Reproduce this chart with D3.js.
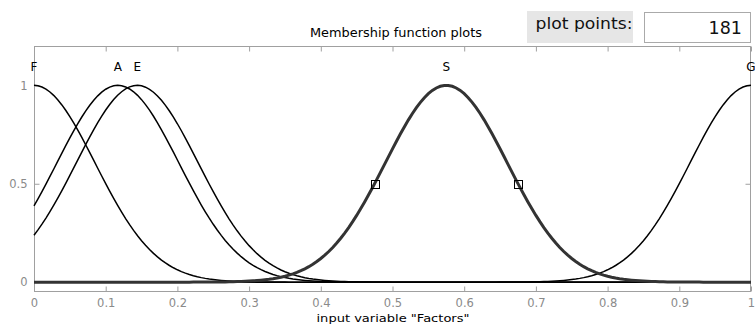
<!DOCTYPE html>
<html>
<head>
<meta charset="utf-8">
<script src="https://cdn.jsdelivr.net/npm/d3@7"></script>
<style>
  body { margin: 0; background: #fff; }
  svg { display: block; font-family: "DejaVu Sans", sans-serif; }
</style>
</head>
<body>
<svg id="chart" width="755" height="327"></svg>
<script>
// membership functions of input "Factors" (gaussmf: sigma, center)
var mfNames   = ["F", "A", "E", "S", "G"];
var mfCenters = [0, 0.117, 0.144, 0.575, 1];
var mfSigmas  = [0.085, 0.085, 0.085, 0.085, 0.085];
var selectedMf = "S";

var xTicks = [0, 0.1, 0.2, 0.3, 0.4, 0.5, 0.6, 0.7, 0.8, 0.9, 1];
var xTickLabels = ["0", "0.1", "0.2", "0.3", "0.4", "0.5", "0.6", "0.7", "0.8", "0.9", "1"];
var yTicks = [0, 0.5, 1];
var yTickLabels = ["0", "0.5", "1"];

var plotPoints = 181;
var inputRange = [0, 1];

var svg = d3.select("#chart");
// axes box (note: "top" is taken by window.top, so prefix these)
var axL = 34, axR = 751, axT = 46, axB = 292;

var x = d3.scaleLinear().domain(inputRange).range([axL, axR]);
var y = d3.scaleLinear().domain([-0.05, 1.2]).range([axB, axT]);

function gaussmf(v, sig, c) {
  return Math.exp(-((v - c) * (v - c)) / (2 * sig * sig));
}

// title
svg.append("text")
  .attr("x", 396).attr("y", 37)
  .attr("text-anchor", "middle")
  .attr("fill", "#000")
  .attr("textLength", 172).attr("lengthAdjust", "spacingAndGlyphs")
  .style("font-size", "11.5px")
  .text("Membership function plots");

// "plot points" label + edit box
svg.append("rect").attr("x", 527).attr("y", 11).attr("width", 106).attr("height", 32)
  .attr("fill", "#e6e6e6");
svg.append("text").attr("x", 584).attr("y", 29)
  .attr("text-anchor", "middle")
  .attr("fill", "#111")
  .attr("textLength", 97).attr("lengthAdjust", "spacingAndGlyphs")
  .style("font-size", "16px")
  .text("plot points:");
svg.append("rect").attr("x", 644.5).attr("y", 12.5).attr("width", 106).attr("height", 30)
  .attr("fill", "#fff").attr("stroke", "#aaa");
svg.append("text").attr("x", 742).attr("y", 34)
  .attr("text-anchor", "end")
  .attr("fill", "#111")
  .style("font-size", "17.5px")
  .text(plotPoints);

svg.append("rect")
  .attr("x", axL + 0.5).attr("y", axT + 0.5)
  .attr("width", axR - axL - 1).attr("height", axB - axT - 1)
  .attr("fill", "none").attr("stroke", "#a0a0a0");

var tickLen = 5;
var xAxisB = d3.axisBottom(x).tickValues(xTicks).tickSize(-tickLen)
  .tickFormat(function (d, i) { return xTickLabels[i]; }).tickPadding(7);
var gxb = svg.append("g").attr("transform", "translate(0," + (axB - 0.5) + ")").call(xAxisB);
var xAxisT = d3.axisTop(x).tickValues(xTicks).tickSize(-tickLen).tickFormat("");
var gxt = svg.append("g").attr("transform", "translate(0," + (axT + 0.5) + ")").call(xAxisT);
var yAxisL = d3.axisLeft(y).tickValues(yTicks).tickSize(-tickLen)
  .tickFormat(function (d, i) { return yTickLabels[i]; }).tickPadding(7);
var gyl = svg.append("g").attr("transform", "translate(" + (axL + 0.5) + ",0)").call(yAxisL);
var yAxisR = d3.axisRight(y).tickValues(yTicks).tickSize(-tickLen).tickFormat("");
var gyr = svg.append("g").attr("transform", "translate(" + (axR - 0.5) + ",0)").call(yAxisR);

[gxb, gxt, gyl, gyr].forEach(function (g) {
  g.select(".domain").remove();
  g.selectAll("line").attr("stroke", "#a0a0a0");
  g.selectAll("text").attr("fill", "#8a8a8a").style("font-size", "11.5px")
    .style("font-family", "'DejaVu Sans', sans-serif");
});

// x label
svg.append("text")
  .attr("x", 393).attr("y", 322)
  .attr("text-anchor", "middle")
  .attr("fill", "#000")
  .attr("textLength", 153).attr("lengthAdjust", "spacingAndGlyphs")
  .style("font-size", "11px")
  .text('input variable "Factors"');

// curves
var xs = d3.range(plotPoints).map(function (i) {
  return inputRange[0] + (inputRange[1] - inputRange[0]) * i / (plotPoints - 1);
});
var line = d3.line().x(function (d) { return x(d[0]); }).y(function (d) { return y(d[1]); });

var order = mfNames.map(function (n, i) { return i; })
  .sort(function (a, b) { return (mfNames[a] === selectedMf) - (mfNames[b] === selectedMf); });

order.forEach(function (i) {
  var pts = xs.map(function (v) { return [v, gaussmf(v, mfSigmas[i], mfCenters[i])]; });
  var sel = mfNames[i] === selectedMf;
  svg.append("path")
    .attr("d", line(pts))
    .attr("fill", "none")
    .attr("stroke", sel ? "#333" : "#000")
    .attr("stroke-width", sel ? 3 : 1.5);
});

// MF name labels
mfNames.forEach(function (n, i) {
  svg.append("text")
    .attr("x", x(mfCenters[i])).attr("y", y(1.1) + 5)
    .attr("text-anchor", "middle")
    .attr("fill", "#000")
    .style("font-size", "12px")
    .text(n);
});

// handles on the selected MF (half-height points)
var si = mfNames.indexOf(selectedMf);
var halfW = mfSigmas[si] * Math.sqrt(2 * Math.log(2));
[mfCenters[si] - halfW, mfCenters[si] + halfW].forEach(function (v) {
  svg.append("rect")
    .attr("x", Math.round(x(v)) - 4 + 0.5).attr("y", Math.round(y(0.5)) - 4 + 0.5)
    .attr("width", 8).attr("height", 8)
    .attr("fill", "none").attr("stroke", "#000").attr("stroke-width", 1);
});
</script>
</body>
</html>
